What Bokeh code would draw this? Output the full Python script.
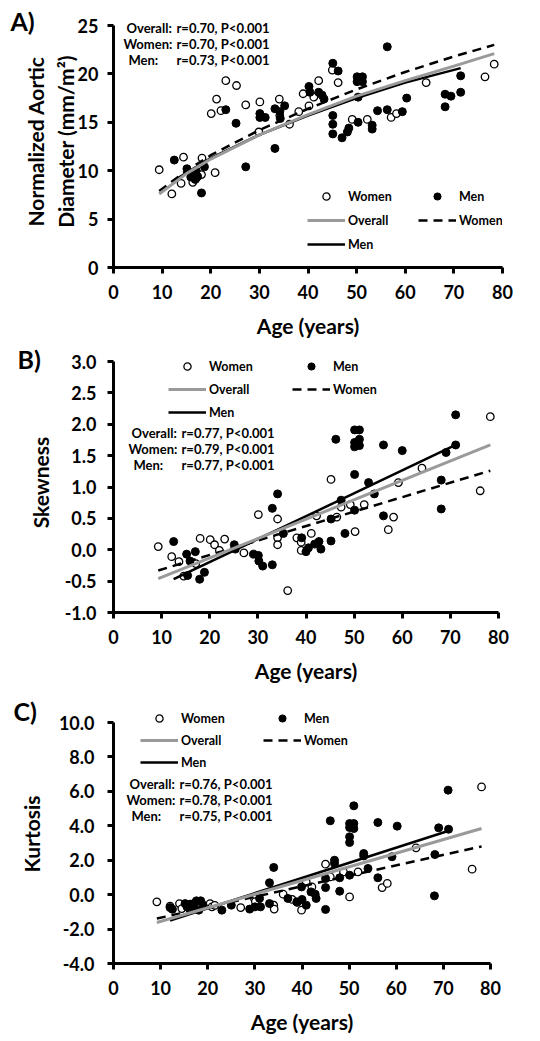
from bokeh.plotting import figure
from bokeh.layouts import column
from bokeh.models import Range1d, Label, Legend, LegendItem, NumeralTickFormatter, FixedTicker
from bokeh.embed import file_html
from bokeh.resources import INLINE

FONT = "Lato"
GRAY = "#9a9a9a"

AGE_TICKS = [0, 10, 20, 30, 40, 50, 60, 70, 80]
STAT_GROUPS = ["Overall:", "Women:", "Men:"]

# ---------------- Panel A: normalized aortic diameter ----------------
a_women_age = [9.4, 12.0, 13.9, 14.4, 16.3, 17.0, 18.2, 18.1, 20.9, 20.1, 21.2, 22.1, 23.1, 25.3, 27.2,
               30.1, 29.9, 34.1, 34.2, 36.2, 38.1, 39.0, 40.2, 41.2, 42.2, 45.0, 46.2, 49.1, 52.2, 57.1,
               58.2, 64.3, 76.4, 78.3]
a_women_val = [10.1, 7.6, 8.7, 11.4, 8.8, 9.2, 11.3, 9.6, 9.8, 15.9, 17.4, 16.2, 19.3, 18.8, 16.8,
               17.1, 14.0, 17.4, 15.7, 14.8, 16.1, 17.95, 16.7, 17.6, 19.3, 20.4, 19.1, 15.3, 15.3, 15.5,
               15.9, 19.1, 19.7, 21.0]
a_men_age = [12.5, 15.1, 15.9, 16.5, 17.0, 17.3, 16.8, 18.1, 18.7, 23.1, 25.2, 27.2, 30.1, 30.1, 31.2,
             33.2, 33.2, 34.2, 34.3, 35.2, 40.2, 40.4, 42.2, 42.9, 43.3, 45.1, 45.1, 45.1, 45.1, 46.2,
             47.0, 48.1, 48.4, 50.1, 50.1, 50.3, 50.3, 51.2, 51.2, 53.2, 53.2, 54.3, 56.3, 56.3, 59.4,
             60.3, 68.2, 68.2, 69.4, 71.4, 71.4]
a_men_val = [11.1, 10.2, 9.35, 9.7, 10.0, 9.4, 9.1, 7.7, 10.4, 16.3, 14.9, 10.4, 15.9, 15.5, 15.5,
             16.4, 12.3, 16.1, 15.4, 16.7, 18.7, 18.1, 18.1, 17.8, 17.4, 21.1, 15.7, 14.8, 13.8, 20.3,
             13.4, 14.0, 14.4, 19.7, 19.2, 17.6, 15.0, 19.7, 19.2, 14.3, 14.7, 16.2, 22.8, 16.3, 16.1,
             17.5, 16.6, 17.9, 17.7, 19.8, 18.1]
a_fit_overall_age = [9.4, 15, 20, 30, 40, 50, 60, 70, 78.3]
a_fit_overall_val = [7.6, 9.7, 11.2, 13.7, 15.8, 17.7, 19.3, 20.8, 22.1]
a_fit_women_age = [9.4, 15, 20, 30, 40, 50, 60, 70, 78.3]
a_fit_women_val = [7.9, 10.0, 11.6, 14.2, 16.4, 18.4, 20.2, 21.8, 23.0]
a_fit_men_age = [12.5, 20, 30, 40, 50, 60, 71.4]
a_fit_men_val = [9.0, 11.3, 13.7, 15.7, 17.5, 19.1, 20.6]
a_stats = ["r=0.70, P<0.001", "r=0.70, P<0.001", "r=0.73, P<0.001"]
a_yticks = [0, 5, 10, 15, 20, 25]

# ---------------- Panel B: skewness ----------------
b_women_age = [9.3, 12.1, 13.6, 14.6, 17.1, 18.0, 20.1, 21.0, 22.0, 23.1, 27.1, 30.1, 34.1, 34.1, 34.1,
               36.2, 38.1, 39.0, 39.0, 41.1, 42.2, 45.2, 46.4, 47.3, 49.2, 50.2, 52.1, 57.1, 58.2, 59.2,
               64.1, 76.2, 78.3]
b_women_val = [0.05, -0.11, -0.19, -0.42, -0.22, 0.18, 0.16, 0.08, -0.01, 0.17, -0.05, 0.56, 0.49, 0.19, 0.08,
               -0.65, 0.19, 0.12, -0.01, 0.26, 0.54, 1.12, 0.52, 0.68, 0.72, 0.29, 0.72, 0.32, 0.52, 1.07,
               1.30, 0.94, 2.12]
b_men_age = [12.5, 15.2, 15.4, 15.9, 17.0, 17.9, 18.9, 25.1, 25.3, 29.1, 30.1, 30.2, 31.0, 33.0, 33.0,
             34.1, 35.3, 39.1, 40.0, 40.5, 41.8, 42.7, 43.1, 45.2, 45.2, 46.2, 47.3, 48.1, 50.1, 50.1,
             50.1, 50.1, 50.1, 51.1, 51.1, 51.1, 53.0, 54.2, 56.1, 56.1, 60.0, 68.1, 68.1, 69.1, 71.1, 71.1]
b_men_val = [0.13, -0.07, -0.41, -0.18, -0.03, -0.47, -0.36, 0.08, 0.01, -0.07, -0.09, -0.18, -0.26, -0.24, 0.66,
             0.89, 0.26, 0.19, -0.03, 0.03, 0.09, 0.13, 0.01, 0.14, 0.49, 1.76, 0.79, 0.26, 1.91, 1.71,
             1.64, 1.20, 0.63, 1.91, 1.76, 1.66, 1.07, 0.89, 1.67, 0.54, 1.58, 1.11, 0.65, 1.55, 2.15, 1.67]
b_fit_overall_age = [9.3, 78.3]
b_fit_overall_val = [-0.46, 1.67]
b_fit_women_age = [9.3, 78.3]
b_fit_women_val = [-0.33, 1.26]
b_fit_men_age = [12.5, 71.1]
b_fit_men_val = [-0.47, 1.67]
b_stats = ["r=0.77, P<0.001", "r=0.79, P<0.001", "r=0.77, P<0.001"]
b_yticks = [-1.0, -0.5, 0.0, 0.5, 1.0, 1.5, 2.0, 2.5, 3.0]

# ---------------- Panel C: kurtosis ----------------
c_women_age = [9.2, 12.0, 14.0, 14.5, 16.3, 17.7, 20.5, 20.9, 21.5, 27.0, 29.9, 30.1, 34.0, 34.1, 36.0,
               37.9, 39.0, 39.9, 40.9, 42.1, 45.0, 46.0, 48.8, 50.1, 51.9, 57.0, 58.1, 64.2, 76.1, 78.1]
c_women_val = [-0.42, -0.67, -0.52, -0.81, -0.55, -0.71, -0.52, -0.71, -0.62, -0.75, -0.22, -0.40, -0.61, -0.84, 0.03,
               -0.28, -0.45, -0.90, 0.74, 0.45, 1.77, 1.03, 1.32, -0.13, 1.32, 0.41, 0.65, 2.72, 1.48, 6.26]
c_men_age = [12.0, 12.5, 15.2, 15.6, 16.2, 16.8, 17.2, 17.6, 18.1, 18.5, 19.0, 23.0, 25.0, 28.9, 30.0,
             31.0, 31.2, 33.1, 33.1, 34.0, 37.0, 38.9, 39.9, 40.0, 40.9, 41.9, 42.8, 43.0, 45.0, 45.0,
             45.0, 46.0, 46.9, 46.9, 48.0, 48.0, 50.1, 50.1, 50.1, 50.1, 50.1, 51.0, 51.0, 51.0, 53.1,
             53.1, 54.0, 56.1, 56.1, 59.1, 60.2, 68.2, 68.1, 69.0, 71.0, 71.1]
c_men_val = [-0.75, -0.85, -0.52, -0.71, -0.60, -0.80, -0.50, -0.36, -0.90, -0.36, -0.60, -0.90, -0.61, -0.84, -0.71,
             -0.22, -0.71, 0.69, -0.52, 1.58, -0.22, -0.42, 0.45, -0.28, -0.61, 0.16, 0.03, -0.22, 0.41, 0.94,
             -0.86, 4.29, 2.00, 1.81, 0.98, 0.20, 4.13, 3.90, 3.36, 3.03, 1.13, 5.16, 4.13, 3.84, 2.39,
             2.25, 1.52, 0.98, 4.19, 2.20, 3.98, 2.33, -0.07, 3.88, 6.07, 3.80]
c_fit_overall_age = [9.2, 78.1]
c_fit_overall_val = [-1.62, 3.84]
c_fit_women_age = [9.2, 78.1]
c_fit_women_val = [-1.39, 2.80]
c_fit_men_age = [12.0, 71.0]
c_fit_men_val = [-1.50, 3.70]
c_stats = ["r=0.76, P<0.001", "r=0.78, P<0.001", "r=0.75, P<0.001"]
c_yticks = [-4, -2, 0, 2, 4, 6, 8, 10]


def make_panel(women, men, fit_o, fit_w, fit_m, ylims, yticks, yfmt, ylabel, letter, stats, g):
    y0, y1 = ylims
    # the frame reaches a few pixels above the axis top so that the legend / stats are not clipped
    y_top = y1 + g["ext"] * (y1 - y0) / g["fh_axis"]
    p = figure(frame_width=g["fw"], frame_height=g["fh_axis"] + g["ext"],
               min_border_left=g["bl"], min_border_right=g["br"],
               min_border_top=g["bt"], min_border_bottom=g["bb"],
               x_range=Range1d(0, 80), y_range=Range1d(y0, y_top),
               output_backend="svg", toolbar_location=None)
    p.outline_line_color = None
    p.grid.visible = False
    p.xaxis.ticker = FixedTicker(ticks=AGE_TICKS)
    p.yaxis.ticker = FixedTicker(ticks=yticks)
    p.yaxis.bounds = (y0, y1)
    p.xaxis.bounds = (0, 80)
    if yfmt:
        p.yaxis.formatter = NumeralTickFormatter(format=yfmt)
    p.xaxis.axis_label = "Age (years)"
    p.yaxis.axis_label = ylabel
    for ax in (p.xaxis[0], p.yaxis[0]):
        ax.axis_line_width = 3
        ax.axis_line_color = "black"
        ax.major_tick_line_width = 3
        ax.major_tick_line_color = "black"
        ax.major_tick_out = 6
        ax.major_tick_in = 0
        ax.minor_tick_line_color = None
        ax.major_label_text_font = FONT
        ax.major_label_text_font_style = "bold"
        ax.major_label_text_font_size = "18px"
        ax.major_label_text_color = "black"
        ax.axis_label_text_font = FONT
        ax.axis_label_text_font_style = "bold"
        ax.axis_label_text_font_size = "21px"
        ax.axis_label_text_color = "black"
    p.xaxis.major_label_standoff = 11
    p.xaxis.axis_label_standoff = 11
    p.yaxis.major_label_standoff = g["ys"]
    p.yaxis.axis_label_standoff = g["yls"]

    # panel letter as the figure title, pulled down beside the axis top
    p.title.text = letter
    p.title.text_font = FONT
    p.title.text_font_style = "bold"
    p.title.text_font_size = "25px"
    p.title.text_color = "black"
    p.title.align = "left"
    p.title.vertical_align = "bottom"
    p.title.offset = g["tx"]
    p.title.standoff = g["tso"]

    rw = p.scatter(women[0], women[1], marker="circle", size=7.5, fill_color="white",
                   line_color="black", line_width=1.3)
    rm = p.scatter(men[0], men[1], marker="circle", size=8, fill_color="black", line_color="black")
    lm = p.line(fit_m[0], fit_m[1], line_color="black", line_width=2.5)
    lw = p.line(fit_w[0], fit_w[1], line_color="black", line_width=2.5, line_dash="9 6")
    lo = p.line(fit_o[0], fit_o[1], line_color=GRAY, line_width=3)

    legend = Legend(items=[LegendItem(label="Women", renderers=[rw]),
                           LegendItem(label="Men", renderers=[rm]),
                           LegendItem(label="Overall", renderers=[lo]),
                           LegendItem(label="Women", renderers=[lw]),
                           LegendItem(label="Men", renderers=[lm])],
                    orientation="horizontal", ncols=2, location=g["leg"],
                    padding=0, margin=0, border_line_color=None, background_fill_alpha=0,
                    glyph_width=38, glyph_height=18, label_height=20, label_width=g["lw"],
                    label_standoff=3, spacing=g["sp"],
                    label_text_font=FONT, label_text_font_style="bold",
                    label_text_font_size="12.5px", label_text_color="black")
    p.add_layout(legend)

    for i, (grp, st) in enumerate(zip(STAT_GROUPS, stats)):
        dx = [0, -3, 2][i]
        p.add_layout(Label(x=g["sx1"] + dx, y=g["sy"][i], x_units="screen", y_units="screen",
                           text=grp, text_font=FONT, text_font_style="bold", text_font_size="13px",
                           text_baseline="middle", text_color="black"))
        p.add_layout(Label(x=g["sx2"], y=g["sy"][i], x_units="screen", y_units="screen",
                           text=st, text_font=FONT, text_font_style="bold", text_font_size="13px",
                           text_baseline="middle", text_color="black"))
    return p


ga = dict(fw=389, fh_axis=242, ext=10, bl=113, br=38, bt=15, bb=73, ys=9, yls=-3,
          leg=(194, 13), lw=66, sp=4, sx1=13, sx2=63, sy=[240, 224, 208], tx=-103, tso=-40)
gb = dict(fw=385, fh_axis=251, ext=9, bl=108, br=47, bt=12, bb=78, ys=11, yls=9,
          leg=(55, 190), lw=80, sp=3, sx1=18, sx2=68, sy=[180, 163.5, 148], tx=-96, tso=-42)
gc = dict(fw=377, fh_axis=241, ext=18, bl=110, br=53, bt=14, bb=78, ys=13, yls=12,
          leg=(27, 191), lw=80, sp=2, sx1=16, sx2=66, sy=[180, 164, 148], tx=-100, tso=-42)

pa = make_panel((a_women_age, a_women_val), (a_men_age, a_men_val),
                (a_fit_overall_age, a_fit_overall_val), (a_fit_women_age, a_fit_women_val),
                (a_fit_men_age, a_fit_men_val), (0, 25), a_yticks, None,
                "Normalized Aortic\nDiameter (mm/m²)", "A)", a_stats, ga)
pb = make_panel((b_women_age, b_women_val), (b_men_age, b_men_val),
                (b_fit_overall_age, b_fit_overall_val), (b_fit_women_age, b_fit_women_val),
                (b_fit_men_age, b_fit_men_val), (-1.0, 3.0), b_yticks, "0.0",
                "Skewness", "B)", b_stats, gb)
pc = make_panel((c_women_age, c_women_val), (c_men_age, c_men_val),
                (c_fit_overall_age, c_fit_overall_val), (c_fit_women_age, c_fit_women_val),
                (c_fit_men_age, c_fit_men_val), (-4, 10), c_yticks, "0.0",
                "Kurtosis", "C)", c_stats, gc)

layout = column(pa, pb, pc, spacing=0)
open("out.html", "w").write(file_html(layout, INLINE))
